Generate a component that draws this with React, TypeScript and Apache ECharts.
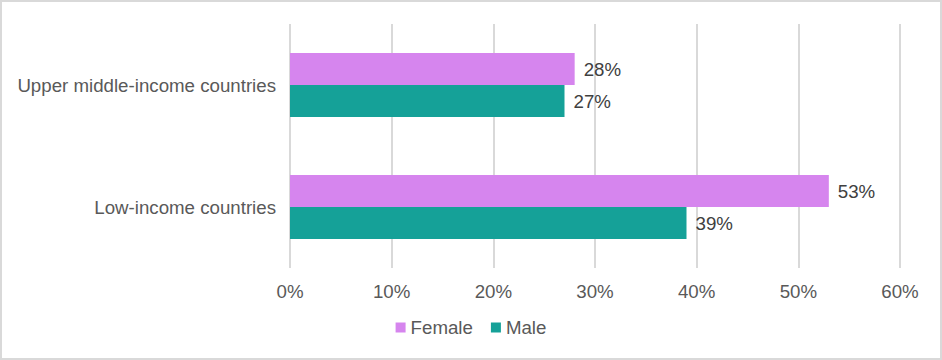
import React, { useEffect, useRef } from "react";
import * as echarts from "echarts";

const categories = ["Low-income countries", "Upper middle-income countries"];
const femaleValues = [53, 28];
const maleValues = [39, 27];
const xTicks = [0, 10, 20, 30, 40, 50, 60];

export default function App() {
  const ref = useRef<HTMLDivElement>(null);
  useEffect(() => {
    document.body.style.margin = "0";
    const chart = echarts.init(ref.current!, null, { renderer: "svg" });
    const font = "'Liberation Sans', Arial, sans-serif";
    const fs = 18.7;
    chart.setOption({
      animation: false,
      textStyle: { fontFamily: font },
      grid: { left: 288, right: 40, top: 22, bottom: 90, containLabel: false },
      legend: {
        bottom: 16,
        left: "center",
        itemWidth: 10,
        itemHeight: 10,
        itemGap: 18,
        icon: "rect",
        textStyle: { color: "#595959", fontSize: fs, fontFamily: font },
        data: ["Female", "Male"],
      },
      xAxis: {
        type: "value",
        min: xTicks[0],
        max: xTicks[xTicks.length - 1],
        interval: 10,
        axisLine: { show: false },
        axisTick: { show: false },
        splitLine: { lineStyle: { color: "#d9d9d9", width: 2 } },
        axisLabel: { formatter: "{value}%", color: "#595959", fontSize: fs, margin: 14, fontFamily: font },
      },
      yAxis: {
        type: "category",
        data: categories,
        axisLine: { show: false },
        axisTick: { show: false },
        axisLabel: { color: "#595959", fontSize: fs, margin: 14, fontFamily: font },
      },
      series: [
        {
          name: "Female",
          type: "bar",
          data: femaleValues,
          barWidth: 32,
          barGap: "0%",
          itemStyle: { color: "#d685ee" },
          label: { show: true, position: "right", formatter: "{c}%", color: "#404040", fontSize: fs, distance: 9, fontFamily: font },
        },
        {
          name: "Male",
          type: "bar",
          data: maleValues,
          barWidth: 32,
          barGap: "0%",
          itemStyle: { color: "#15a198" },
          label: { show: true, position: "right", formatter: "{c}%", color: "#404040", fontSize: fs, distance: 9, fontFamily: font },
        },
      ],
    });
    return () => chart.dispose();
  }, []);
  return (
    <div
      style={{
        width: 942,
        height: 360,
        boxSizing: "border-box",
        border: "2px solid #d9d9d9",
        background: "#fff",
      }}
    >
      <div ref={ref} style={{ width: 938, height: 356 }} />
    </div>
  );
}
